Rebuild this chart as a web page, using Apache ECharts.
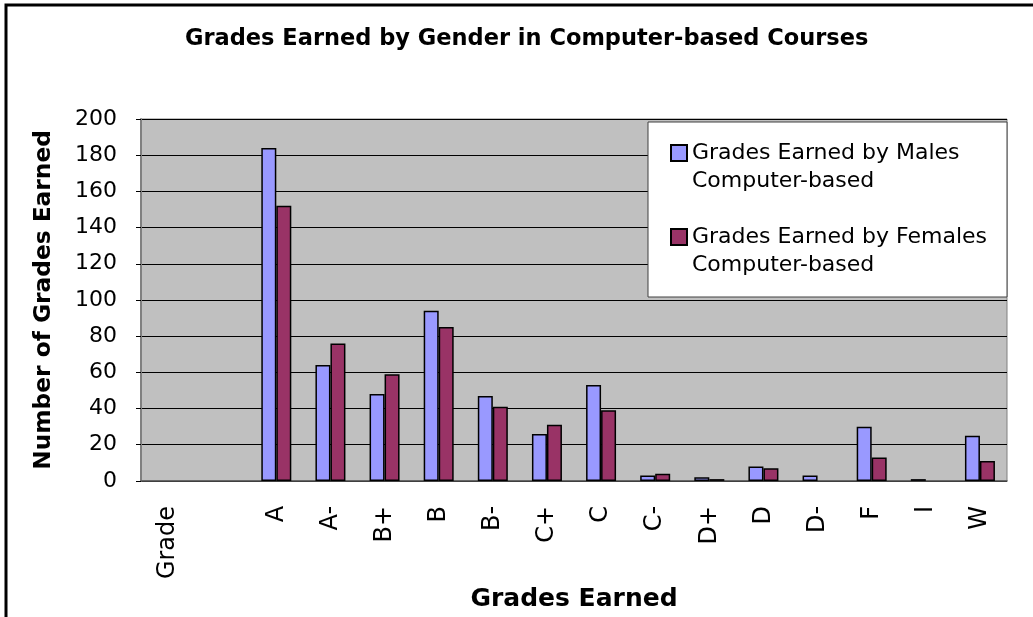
<!DOCTYPE html>
<html>
<head>
<meta charset="utf-8">
<title>Grades Earned by Gender in Computer-based Courses</title>
<script src="https://cdn.jsdelivr.net/npm/echarts@6/dist/echarts.min.js"></script>
<style>
  html, body {
    margin: 0;
    padding: 0;
    background: #FFF;
  }
  #chart {
    width: 1033px;
    height: 617px;
  }
</style>
</head>
<body>
<div id="chart"></div>
<script>
// grade categories (first two columns are empty in the source sheet)
const categories = ["Grade", "", "A", "A-", "B+", "B", "B-", "C+", "C", "C-", "D+", "D", "D-", "F", "I", "W"]
const maleGrades = [null, null, 184, 64, 48, 94, 47, 26, 53, 3, 2, 8, 3, 30, 1, 25]
const femaleGrades = [null, null, 152, 76, 59, 85, 41, 31, 39, 4, 1, 7, null, 13, null, 11]
const seriesNames = [
  "Grades Earned by Males\nComputer-based",
  "Grades Earned by Females\nComputer-based"
]
const COLOR_LIST = ["#9999FF", "#993366"]

const FONT = "DejaVu Sans"

const chart = echarts.init(document.getElementById("chart"))

const option = {
  backgroundColor: "#FFFFFF",
  animation: false,
  title: {
    text: "Grades Earned by Gender in Computer-based Courses",
    left: 185,
    top: 28,
    padding: 0,
    textStyle: {
      fontFamily: FONT,
      fontWeight: "bold",
      fontSize: 22.5,
      color: "#000"
    }
  },
  // outer frame + white legend box
  graphic: [
    {
      type: "rect",
      z: 20,
      shape: { x: 6, y: 5, width: 1100, height: 700 },
      style: { fill: "none", stroke: "#000", lineWidth: 3 }
    },
    {
      type: "rect",
      z: 5,
      shape: { x: 648, y: 122, width: 359, height: 175 },
      style: { fill: "#FFF", stroke: "#404040", lineWidth: 1 }
    }
  ],
  legend: {
    orient: "vertical",
    left: 670,
    top: 111,
    padding: 0,
    itemGap: 0,
    itemWidth: 16,
    itemHeight: 16,
    icon: "rect",
    z: 10,
    // blank first line so the swatch lines up with the first text line
    formatter: (name) => "\n" + name,
    textStyle: {
      fontFamily: FONT,
      fontSize: 22,
      lineHeight: 28,
      color: "#000"
    }
  },
  grid: {
    left: 141,
    right: 26,
    top: 119,
    bottom: 134,
    show: true,
    backgroundColor: "#C0C0C0",
    borderColor: "#808080",
    borderWidth: 1
  },
  xAxis: {
    type: "category",
    data: categories,
    name: "Grades Earned",
    nameLocation: "middle",
    nameGap: 96,
    nameTextStyle: {
      fontFamily: FONT,
      fontWeight: "bold",
      fontSize: 25,
      color: "#000"
    },
    axisLine: {
      lineStyle: { color: "#555", width: 1.5 }
    },
    axisTick: {
      length: 5,
      lineStyle: { color: "#808080" }
    },
    axisLabel: {
      interval: 0,
      rotate: 90,
      margin: 25,
      fontFamily: FONT,
      fontSize: 24,
      color: "#000"
    }
  },
  yAxis: {
    type: "value",
    min: 0,
    max: 200,
    interval: 20,
    name: "Number of Grades Earned",
    nameLocation: "middle",
    nameGap: 86,
    nameTextStyle: {
      fontFamily: FONT,
      fontWeight: "bold",
      fontSize: 23.3,
      color: "#000"
    },
    axisLine: {
      show: true,
      lineStyle: { color: "#808080", width: 2 }
    },
    axisTick: {
      show: true,
      length: 5,
      lineStyle: { color: "#000" }
    },
    axisLabel: {
      margin: 24,
      fontFamily: FONT,
      fontSize: 22,
      color: "#000"
    },
    splitLine: {
      lineStyle: { color: "#000", width: 1 }
    }
  },
  series: [maleGrades, femaleGrades].map((values, index) => {
    return {
      name: seriesNames[index],
      type: "bar",
      data: values,
      barWidth: 15,
      barGap: "0%",
      itemStyle: {
        color: COLOR_LIST[index],
        borderColor: "#000",
        borderWidth: 1.5
      }
    }
  })
}

chart.setOption(option)
</script>
</body>
</html>
